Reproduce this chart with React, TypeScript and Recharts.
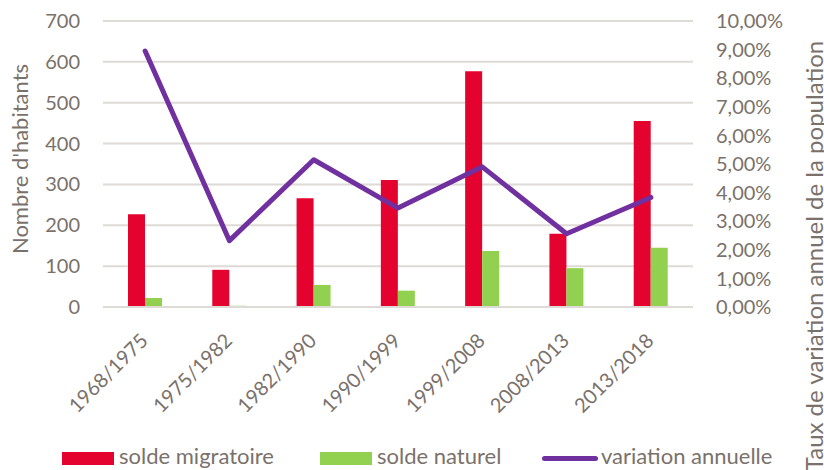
import React from "react";
import {
  Bar,
  CartesianGrid,
  ComposedChart,
  Legend,
  Line,
  XAxis,
  YAxis,
} from "recharts";

const periods = [
  "1968/1975",
  "1975/1982",
  "1982/1990",
  "1990/1999",
  "1999/2008",
  "2008/2013",
  "2013/2018",
];
const soldeMigratoire = [227, 91, 266, 311, 577, 179, 455];
const soldeNaturel = [22, 3, 54, 40, 137, 95, 145];
const variationAnnuelle = [0.0895, 0.0232, 0.0515, 0.0346, 0.049, 0.0256, 0.0383];

const leftTicks = [0, 100, 200, 300, 400, 500, 600, 700];
const rightTicks = [0, 0.01, 0.02, 0.03, 0.04, 0.05, 0.06, 0.07, 0.08, 0.09, 0.1];

const FONT = "Lato, 'Open Sans', sans-serif";
const TEXT = "#7a716b";
const RED = "#E4032E";
const GREEN = "#92D050";
const PURPLE = "#7030A0";

const data = periods.map((p, i) => ({
  period: p,
  migratoire: soldeMigratoire[i],
  naturel: soldeNaturel[i],
  variation: variationAnnuelle[i],
}));

const pct = (v: number) => (v * 100).toFixed(2).replace(".", ",") + "%";

function PeriodTick({ x, y, payload }: any) {
  const ax = x + 4;
  const ay = y + 35;
  return (
    <text
      x={ax}
      y={ay}
      transform={`rotate(-45, ${ax}, ${ay})`}
      textAnchor="end"
      fill={TEXT}
      fontSize={20}
      fontFamily={FONT}
    >
      {payload.value}
    </text>
  );
}

// left axis labels sit right-aligned at x=80, like the original
function LeftTick({ y, payload }: any) {
  return (
    <text x={80} y={y} dy="0.35em" textAnchor="end" fill={TEXT} fontSize={20} fontFamily={FONT}>
      {payload.value}
    </text>
  );
}

function LegendBox() {
  const label = { fontSize: 22, color: TEXT, fontFamily: FONT, lineHeight: "22px" };
  return (
    <div style={{ position: "relative", width: 824, height: 30 }}>
      <div style={{ position: "absolute", left: 62, top: 12, width: 52, height: 13, background: RED }} />
      <span style={{ ...label, position: "absolute", left: 119, top: 5 }}>solde migratoire</span>
      <div style={{ position: "absolute", left: 320, top: 12, width: 52, height: 13, background: GREEN }} />
      <span style={{ ...label, position: "absolute", left: 377, top: 5 }}>solde naturel</span>
      <div
        style={{
          position: "absolute",
          left: 542,
          top: 16,
          width: 56,
          height: 5,
          borderRadius: 3,
          background: PURPLE,
        }}
      />
      <span style={{ ...label, position: "absolute", left: 601, top: 5 }}>variation annuelle</span>
    </div>
  );
}

export default function App() {
  return (
    <div style={{ position: "absolute", left: 0, top: 0, width: 824, height: 470, background: "#fff", overflow: "hidden" }}>
      <ComposedChart
        width={824}
        height={470}
        data={data}
        margin={{ top: 21, right: 0, left: 0, bottom: 0 }}
        barGap={0}
      >
        <CartesianGrid
          yAxisId="left"
          vertical={false}
          stroke="#dedad6"
          strokeWidth={2}
        />
        <XAxis
          dataKey="period"
          height={133}
          interval={0}
          tickLine={false}
          tickSize={0}
          tickMargin={0}
          axisLine={{ stroke: "#dedad6", strokeWidth: 2 }}
          tick={<PeriodTick />}
        />
        <YAxis
          yAxisId="left"
          width={103}
          domain={[0, 700]}
          ticks={leftTicks}
          axisLine={false}
          tickLine={false}
          tick={<LeftTick />}
          label={(props: any) => {
            const lx = 28;
            const ly = 159;
            return (
              <text
                x={lx}
                y={ly}
                transform={`rotate(-90, ${lx}, ${ly})`}
                textAnchor="middle"
                fill={TEXT}
                fontSize={22}
                fontFamily={FONT}
              >
                Nombre d'habitants
              </text>
            );
          }}
        />
        <YAxis
          yAxisId="right"
          orientation="right"
          width={131}
          domain={[0, 0.1]}
          ticks={rightTicks}
          axisLine={false}
          tickLine={false}
          tickSize={0}
          tickMargin={23}
          tickFormatter={pct}
          tick={{ fill: TEXT, fontSize: 20, fontFamily: FONT }}
          label={(props: any) => {
            const lx = 823;
            const ly = 256;
            return (
              <text
                x={lx}
                y={ly}
                transform={`rotate(-90, ${lx}, ${ly})`}
                textAnchor="middle"
                fill={TEXT}
                fontSize={24}
                fontFamily={FONT}
              >
                Taux de variation annuel de la population
              </text>
            );
          }}
        />
        <Bar yAxisId="left" dataKey="migratoire" name="solde migratoire" fill={RED} barSize={17} isAnimationActive={false} />
        <Bar yAxisId="left" dataKey="naturel" name="solde naturel" fill={GREEN} barSize={17} isAnimationActive={false} />
        <Line
          yAxisId="right"
          dataKey="variation"
          name="variation annuelle"
          type="linear"
          stroke={PURPLE}
          strokeWidth={5}
          strokeLinecap="round"
          strokeLinejoin="round"
          dot={false}
          activeDot={false}
          isAnimationActive={false}
        />
        <Legend verticalAlign="bottom" content={<LegendBox />} wrapperStyle={{ left: 0, width: 824, height: 30 }} />
      </ComposedChart>
    </div>
  );
}
